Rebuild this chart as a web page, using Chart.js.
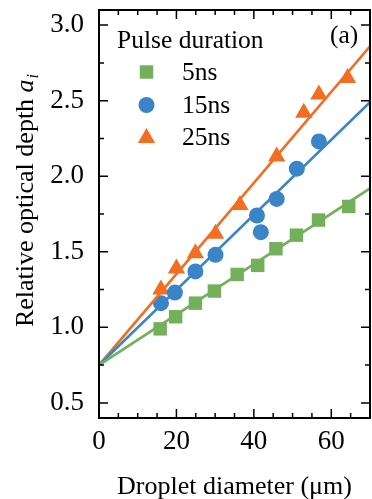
<!DOCTYPE html>
<html>
<head>
<meta charset="utf-8">
<script src="https://cdn.jsdelivr.net/npm/chart.js@4"></script>
<style>
    html, body { margin: 0; padding: 0; background: #fff; }
    #wrap { width: 372px; height: 499px; overflow: hidden; position: relative; }
    #wrap canvas { position: absolute; left: 0; top: 0; }
</style>
</head>
<body>
<div id="wrap"><canvas id="chart" width="380" height="499"></canvas></div>
<script>
// data
const diam5 = [15.8, 19.8, 24.9, 29.8, 35.7, 41.0, 45.7, 51.0, 56.7, 64.5];
const depth5 = [0.99, 1.07, 1.16, 1.24, 1.35, 1.41, 1.52, 1.61, 1.71, 1.80];
const diam15 = [16.0, 19.6, 24.9, 30.1, 40.8, 41.8, 45.9, 51.1, 56.8];
const depth15 = [1.16, 1.23, 1.37, 1.48, 1.74, 1.63, 1.85, 2.05, 2.23];
const diam25 = [16.0, 20.0, 24.9, 30.1, 36.4, 45.9, 52.9, 56.8, 64.2];
const depth25 = [1.25, 1.39, 1.49, 1.62, 1.81, 2.13, 2.42, 2.54, 2.65];

// linear fits (end points)
const fitX = [0, 70];
const fit5 = [0.75, 1.92];
const fit15 = [0.75, 2.49];
const fit25 = [0.75, 2.86];

const seriesNames = ['5ns', '15ns', '25ns'];
const xTicks = [0, 20, 40, 60];
const yTicks = [0.5, 1.0, 1.5, 2.0, 2.5, 3.0];

const GREEN = '#72b15a', BLUE = '#3a84c8', ORANGE = '#f26e22';
const FONT = '"Liberation Serif", "Times New Roman", serif';

const toPts = (xs, ys) => xs.map((x, i) => ({ x: x, y: ys[i] }));

function drawMarker(ctx, style, x, y, r, color) {
    ctx.save();
    ctx.fillStyle = color;
    ctx.beginPath();
    if (style === 'rect') {
        const s = r * Math.SQRT1_2;
        ctx.rect(x - s, y - s, 2 * s, 2 * s);
    } else if (style === 'circle') {
        ctx.arc(x, y, r, 0, Math.PI * 2);
    } else {
        ctx.moveTo(x, y - r);
        ctx.lineTo(x + r * Math.sin(2 * Math.PI / 3), y + r / 2);
        ctx.lineTo(x - r * Math.sin(2 * Math.PI / 3), y + r / 2);
        ctx.closePath();
    }
    ctx.fill();
    ctx.restore();
}

// frame, inward ticks, legend, labels
const framePlugin = {
    id: 'framePlugin',
    afterDraw(chart) {
        const ctx = chart.ctx;
        const a = chart.chartArea;
        const xs = chart.scales.x, ys = chart.scales.y;
        ctx.save();
        ctx.strokeStyle = '#000';
        ctx.lineWidth = 2;
        ctx.strokeRect(a.left, a.top, a.right - a.left, a.bottom - a.top);
        ctx.lineWidth = 1.5;
        ctx.beginPath();
        for (let v = 0; v <= 70; v += 5) {
            const px = xs.getPixelForValue(v);
            const len = v % 20 === 0 ? 9 : 5;
            ctx.moveTo(px, a.bottom); ctx.lineTo(px, a.bottom - len);
            ctx.moveTo(px, a.top); ctx.lineTo(px, a.top + len);
        }
        for (let v = 0.5; v <= 3.0001; v += 0.25) {
            const py = ys.getPixelForValue(v);
            const len = Math.abs(v * 2 - Math.round(v * 2)) < 0.01 ? 9 : 5;
            ctx.moveTo(a.left, py); ctx.lineTo(a.left + len, py);
            ctx.moveTo(a.right, py); ctx.lineTo(a.right - len, py);
        }
        ctx.stroke();

        // legend
        ctx.fillStyle = '#000';
        ctx.textBaseline = 'middle';
        ctx.textAlign = 'left';
        ctx.font = '25.5px ' + FONT;
        ctx.fillText('Pulse duration', 117, 41);
        ctx.fillText('(a)', 330, 36);
        const styles = ['rect', 'circle', 'triangle'];
        const colors = [GREEN, BLUE, ORANGE];
        const radii = [9.5, 8, 10];
        const rows = [72, 105, 137];
        seriesNames.forEach((name, i) => {
            drawMarker(ctx, styles[i], 146.5, rows[i] + (i === 2 ? 1 : 0), radii[i], colors[i]);
            ctx.fillStyle = '#000';
            ctx.fillText(name, 182, rows[i] + 1);
        });

        // y axis title with italic a_i
        ctx.save();
        ctx.translate(33, 201);
        ctx.rotate(-Math.PI / 2);
        ctx.font = '26px ' + FONT;
        const main = 'Relative optical depth ';
        const wMain = ctx.measureText(main).width;
        ctx.font = 'italic 26px ' + FONT;
        const wA = ctx.measureText('a').width;
        ctx.font = 'italic 16px ' + FONT;
        const wI = ctx.measureText('i').width;
        let x0 = -(wMain + wA + wI) / 2;
        ctx.textBaseline = 'alphabetic';
        ctx.font = '26px ' + FONT;
        ctx.fillText(main, x0, 0);
        ctx.font = 'italic 26px ' + FONT;
        ctx.fillText('a', x0 + wMain, 0);
        ctx.font = 'italic 16px ' + FONT;
        ctx.fillText('i', x0 + wMain + wA + 1, 5);
        ctx.restore();
        ctx.restore();
    }
};

const ctx = document.getElementById('chart').getContext('2d');
new Chart(ctx, {
    type: 'scatter',
    data: {
        datasets: [
            { label: 'fit5', type: 'line', data: toPts(fitX, fit5), borderColor: GREEN, borderWidth: 2.7, pointRadius: 0, fill: false },
            { label: 'fit15', type: 'line', data: toPts(fitX, fit15), borderColor: BLUE, borderWidth: 2.7, pointRadius: 0, fill: false },
            { label: 'fit25', type: 'line', data: toPts(fitX, fit25), borderColor: ORANGE, borderWidth: 2.7, pointRadius: 0, fill: false },
            { label: seriesNames[0], data: toPts(diam5, depth5), pointStyle: 'rect', pointRadius: 9.5, backgroundColor: GREEN, borderWidth: 0 },
            { label: seriesNames[1], data: toPts(diam15, depth15), pointStyle: 'circle', pointRadius: 8, backgroundColor: BLUE, borderWidth: 0 },
            { label: seriesNames[2], data: toPts(diam25, depth25), pointStyle: 'triangle', pointRadius: 10, backgroundColor: ORANGE, borderWidth: 0 }
        ]
    },
    options: {
        responsive: false,
        animation: false,
        clip: true,
        layout: { padding: { left: 0, right: 6, top: 0, bottom: 0 } },
        scales: {
            x: {
                type: 'linear',
                min: 0,
                max: 70,
                afterFit: s => { s.height = 81; s.paddingLeft = 0; s.paddingRight = 0; },
                afterBuildTicks: s => { s.ticks = xTicks.map(v => ({ value: v })); },
                grid: { display: false },
                border: { display: false },
                ticks: { color: '#000', padding: 2, font: { family: FONT, size: 27, lineHeight: 1 } },
                title: {
                    display: true,
                    text: 'Droplet diameter (μm)',
                    color: '#000',
                    padding: { top: 0, bottom: 0 },
                    font: { family: FONT, size: 26, lineHeight: 0.92 }
                }
            },
            y: {
                type: 'linear',
                min: 0.4,
                max: 3.1,
                afterFit: s => { s.width = 99; s.paddingTop = 10; s.paddingBottom = 0; },
                afterBuildTicks: s => { s.ticks = yTicks.map(v => ({ value: v })); },
                grid: { display: false },
                border: { display: false },
                ticks: { color: '#000', padding: 7, font: { family: FONT, size: 27 }, callback: v => v.toFixed(1) }
            }
        },
        plugins: {
            legend: { display: false },
            tooltip: { enabled: false }
        }
    },
    plugins: [framePlugin]
});
</script>
</body>
</html>
